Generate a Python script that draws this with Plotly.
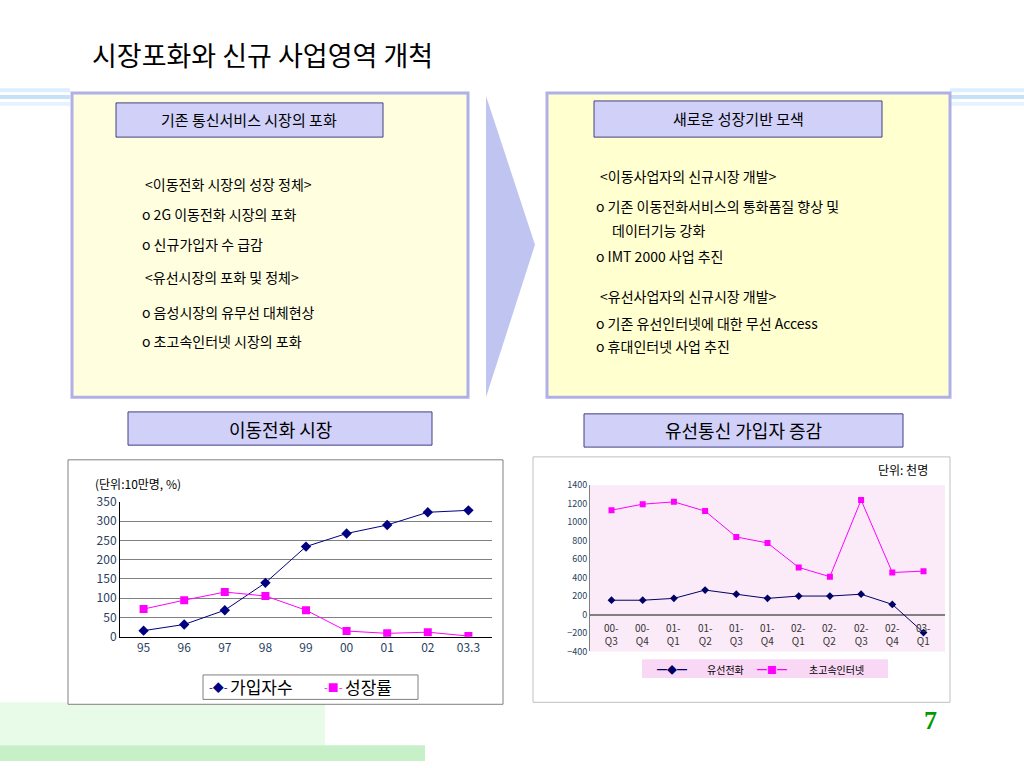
import plotly.graph_objects as go

years = ["95","96","97","98","99","00","01","02","03.3"]
mobile_subs = [16,32,69,140,234,268,290,323,328]
mobile_growth = [72,95,116,106,69,15,9,12,2]

quarters = ["00-<br>Q3","00-<br>Q4","01-<br>Q1","01-<br>Q2","01-<br>Q3","01-<br>Q4","02-<br>Q1","02-<br>Q2","02-<br>Q3","02-<br>Q4","03-<br>Q1"]
wired_phone = [155,155,175,265,220,175,200,200,220,110,-195]
broadband = [1130,1195,1220,1120,840,775,510,410,1240,455,470]

W, H = 1024, 768
def px(x): return x / W
def py(y): return 1 - y / H

NAVY = "#000080"
MAG = "#FF00FF"
F = "Noto Sans CJK KR"

fig = go.Figure()
fig.add_trace(go.Scatter(x=years, y=mobile_subs, name="가입자수", mode="lines+markers",
    line=dict(color=NAVY, width=1), marker=dict(symbol="diamond", size=8, color=NAVY),
    xaxis="x", yaxis="y"))
fig.add_trace(go.Scatter(x=years, y=mobile_growth, name="성장률", mode="lines+markers",
    line=dict(color=MAG, width=1), marker=dict(symbol="square", size=8, color=MAG),
    xaxis="x", yaxis="y"))
fig.add_trace(go.Scatter(x=quarters, y=wired_phone, name="유선전화", mode="lines+markers",
    line=dict(color="#000066", width=1), marker=dict(symbol="diamond", size=6, color="#000066"),
    xaxis="x2", yaxis="y2"))
fig.add_trace(go.Scatter(x=quarters, y=broadband, name="초고속인터넷", mode="lines+markers",
    line=dict(color=MAG, width=1), marker=dict(symbol="square", size=6, color=MAG),
    xaxis="x2", yaxis="y2"))

shapes = []
ann = []
def rect(x0,y0,x1,y1,fill,line=None,lw=1,layer="below"):
    shapes.append(dict(type="rect", xref="paper", yref="paper", x0=px(x0), x1=px(x1), y0=py(y1), y1=py(y0),
        fillcolor=fill, line=dict(color=line or fill, width=lw if line else 0), layer=layer))
def text(x,y,s,size=14,color="black",xanchor="left",bold=False,family=F):
    ann.append(dict(x=px(x), y=py(y), xref="paper", yref="paper", text=("<b>%s</b>" % s) if bold else s,
        showarrow=False, xanchor=xanchor, yanchor="middle", font=dict(size=size, color=color, family=family)))

for i, c in enumerate(["#DDEEFF","#C8E0F8","#E6F2FF"]):
    rect(0, 80+i*7, 70, 84+i*7, c)
    rect(950, 80+i*7, 1024, 84+i*7, c)
rect(0, 708, 325, 768, "#E8FAE8")
rect(0, 752, 425, 768, "#C8F0C8")

rect(72, 85, 468, 396, "#FFFFE0", "#B0B0E8", 3)
rect(547, 85, 950, 396, "#FFFFD0", "#B0B0E8", 3)
shapes.append(dict(type="path", xref="paper", yref="paper",
    path="M %f %f L %f %f L %f %f L %f %f Z" % (px(486),py(88),px(535),py(240),px(486),py(396),px(486),py(88)),
    fillcolor="#C0C4F0", line=dict(width=0), layer="below"))
rect(116, 95, 383, 130, "#D0D0F8", "#404080", 1)
rect(594, 93, 882, 130, "#D0D0F8", "#404080", 1)
rect(128, 411, 432, 445, "#D0D0F8", "#404080", 1)
rect(584, 413, 903, 447, "#D0D0F8", "#404080", 1)
rect(68, 460, 503, 710, "white", "#808080", 1)
rect(533, 457, 950, 708, "#FFFFFF", "#C0C0C0", 1)
rect(590, 486, 945, 656, "#FBEAF8")
rect(642, 664, 888, 683, "#F8D8F4")
rect(203, 680, 418, 705, "white", "#808080", 1)

text(90, 46, "시장포화와 신규 사업영역 개척", 27)
text(249, 112, "기존 통신서비스 시장의 포화", 15, xanchor="center")
text(738, 111, "새로운 성장기반 모색", 15, xanchor="center")
text(280, 428, "이동전화 시장", 18, xanchor="center")
text(743, 430, "유선통신 가입자 증감", 18, xanchor="center")

left_lines = [(143,178,"<이동전화 시장의 성장 정체>"),(140,209,"o 2G 이동전화 시장의 포화"),(140,239,"o 신규가입자 수 급감"),
              (143,273,"<유선시장의 포화 및 정체>"),(140,309,"o 음성시장의 유무선 대체현상"),(140,339,"o 초고속인터넷 시장의 포화")]
for x,y,s in left_lines: text(x,y,s,14)
right_lines = [(598,170,"<이동사업자의 신규시장 개발>"),(594,200,"o 기존 이동전화서비스의 통화품질 향상 및"),(610,225,"데이터기능 강화"),
               (594,252,"o IMT 2000 사업 추진"),(598,292,"<유선사업자의 신규시장 개발>"),(594,320,"o 기존 유선인터넷에 대한 무선 Access"),(594,344,"o 휴대인터넷 사업 추진")]
for x,y,s in right_lines: text(x,y,s,14)

text(93, 484, "(단위:10만명, %)", 12)
text(930, 470, "단위: 천명", 12, xanchor="right")
text(930, 727, "7", 26, color="#009900", xanchor="center", bold=True, family="Liberation Serif")

for q in quarters:
    ann.append(dict(x=q, y=0, xref="x2", yref="y2", text=q, showarrow=False, yanchor="top", yshift=-3,
        font=dict(size=10, color="#333333", family=F)))

text(228, 692, "가입자수", 17)
text(343, 692, "성장률", 17)
text(207, 692, "-◆-", 11, color=NAVY)
text(322, 692, "-■-", 11, color=MAG)
text(655, 674, "━◆━", 10, color="#000066")
text(705, 674, "유선전화", 10)
text(755, 674, "━■━", 10, color=MAG)
text(807, 674, "초고속인터넷", 10)

fig.update_layout(
    width=W, height=H, margin=dict(l=0,r=0,t=0,b=0), paper_bgcolor="white", plot_bgcolor="rgba(0,0,0,0)",
    showlegend=False, shapes=shapes, annotations=ann,
    xaxis=dict(domain=[px(120),px(492)], anchor="y", showgrid=False, showline=True, linecolor="black",
        ticks="", tickfont=dict(size=12, family=F)),
    yaxis=dict(domain=[py(641),py(503)], anchor="x", range=[0,350], dtick=50, showgrid=True, gridcolor="#808080",
        showline=True, linecolor="black", tickfont=dict(size=12, family=F), zeroline=False),
    xaxis2=dict(domain=[px(590),px(945)], anchor="y2", showgrid=False, showticklabels=False, showline=False),
    yaxis2=dict(domain=[py(656),py(486)], anchor="x2", range=[-400,1400], dtick=200, showgrid=False,
        showline=True, linecolor="#808080", zeroline=True, zerolinecolor="#808080", tickfont=dict(size=9, family=F)),
)

fig.write_html("out.html", config={"displayModeBar": False})
with open("out.html", encoding="utf-8") as f:
    html = f.read()
html = html.replace("<head>", "<head><style>html,body{margin:0;padding:0;overflow:hidden}</style>", 1)
with open("out.html", "w", encoding="utf-8") as f:
    f.write(html)
